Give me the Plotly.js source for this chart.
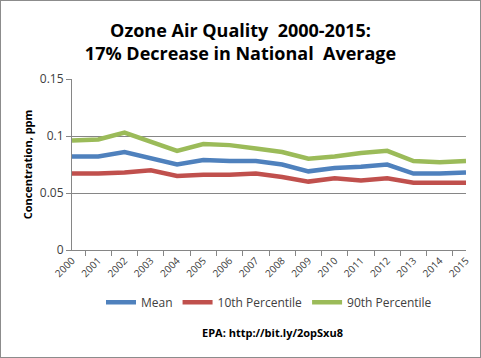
<!DOCTYPE html>
<html><head><meta charset="utf-8">
<script src="https://cdn.plot.ly/plotly-3.0.1.min.js"></script>
<style>
html,body{margin:0;padding:0;background:#fff;}
#wrap{position:relative;width:481px;height:358px;}
#chart{width:481px;height:358px;}
#frame{position:absolute;left:0;top:0;width:479px;height:356px;border:1px solid #8c8c8c;pointer-events:none;}
</style>
</head><body>
<div id="wrap"><div id="chart"></div><div id="frame"></div></div>
<script>
const years = ['2000','2001','2002','2003','2004','2005','2006','2007','2008','2009','2010','2011','2012','2013','2014','2015'];
const meanVals = [0.082,0.082,0.086,0.081,0.075,0.079,0.078,0.078,0.075,0.069,0.072,0.073,0.075,0.067,0.067,0.068];
const p10Vals  = [0.067,0.067,0.068,0.070,0.065,0.066,0.066,0.067,0.064,0.060,0.063,0.061,0.063,0.059,0.059,0.059];
const p90Vals  = [0.096,0.097,0.103,0.095,0.087,0.093,0.092,0.089,0.086,0.080,0.082,0.085,0.087,0.078,0.077,0.078];
const yTicks = [0,0.05,0.1,0.15];
const yTickText = ['0','0.05','0.1','0.15'];

const font = 'Open Sans, Liberation Sans, sans-serif';
function tr(name, vals, color){
  return {x: years, y: vals, name: name, type:'scatter', mode:'lines',
    line:{color:color, width:4.5}};
}
const data = [
  tr('Mean', meanVals, '#4F81BD'),
  tr('10th Percentile', p10Vals, '#C0504D'),
  tr('90th Percentile', p90Vals, '#9BBB59')
];
const layout = {
  width:481, height:358,
  margin:{l:72, r:15, t:79, b:108},
  paper_bgcolor:'#fff', plot_bgcolor:'#fff',
  font:{family:font, color:'#404040'},
  title:{text:'<b>Ozone Air Quality  2000-2015:<br>17% Decrease in National  Average</b>',
    x:0.5, xanchor:'center', y:1-37/358, yanchor:'middle',
    font:{family:font, size:18, color:'#000'}},
  showlegend:true,
  legend:{orientation:'h', x:0.5, xanchor:'center', y:-0.305, yanchor:'middle',
    font:{family:font, size:12, color:'#404040'}, itemwidth:30, traceorder:'normal'},
  xaxis:{type:'category', tickangle:-45, tickson:'boundaries', ticks:'outside', ticklen:5,
    tickcolor:'#868686', showline:true, linecolor:'#868686', linewidth:1,
    showgrid:false, tickfont:{family:font, size:10, color:'#404040'}, fixedrange:true},
  yaxis:{range:[0,0.15], tickvals:yTicks, ticktext:yTickText, ticks:'outside', ticklen:5,
    tickcolor:'#868686', showline:true, linecolor:'#868686', linewidth:1,
    showgrid:true, gridcolor:'#868686', gridwidth:1, zeroline:false,
    tickfont:{family:font, size:12, color:'#404040'},
    title:{text:'<b>Concentration, ppm</b>', standoff:4, font:{family:font, size:11, color:'#000'}}},
  annotations:[{text:'<b>EPA: http://bit.ly/2opSxu8</b>', xref:'paper', yref:'paper',
    x:0.51, y:-0.485, xanchor:'center', yanchor:'middle', showarrow:false,
    font:{family:font, size:11, color:'#000'}}]
};
Plotly.newPlot('chart', data, layout, {displayModeBar:false, staticPlot:true});
</script>
</body></html>
